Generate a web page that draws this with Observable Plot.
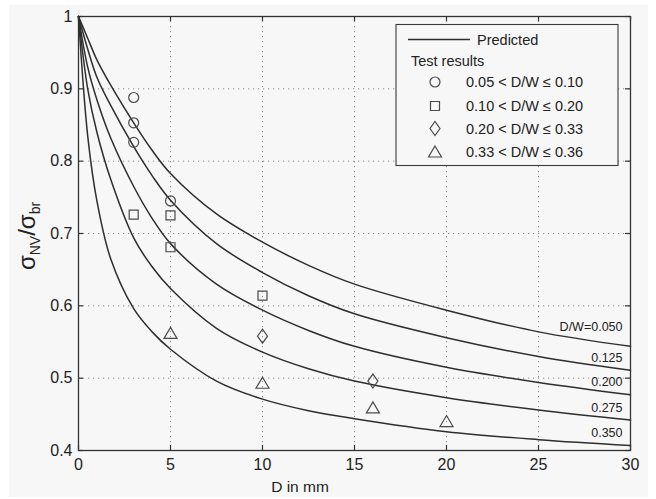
<!DOCTYPE html>
<html>
<head>
<meta charset="utf-8">
<script src="https://cdn.jsdelivr.net/npm/d3@7"></script>
<script src="https://cdn.jsdelivr.net/npm/@observablehq/plot@0.6"></script>
<style>
  html, body { margin: 0; padding: 0; background: #ffffff; }
  #panel { position: absolute; left: 9px; top: 5px; width: 639px; height: 492px; background: #f7f7f7; }
  #chart { position: absolute; left: 0; top: 0; }
</style>
</head>
<body>
<div id="panel"></div>
<div id="chart"></div>
<script>
// ---- Data ----
const D_MM = [0, 0.5, 1, 1.75, 3, 4, 5, 7.5, 10, 12.5, 15, 20, 25, 30];
const PRED_050 = [1, 0.970, 0.940, 0.905, 0.853, 0.815, 0.783, 0.727, 0.688, 0.656, 0.630, 0.594, 0.564, 0.544];
const PRED_125 = [1, 0.955, 0.916, 0.877, 0.820, 0.780, 0.746, 0.686, 0.646, 0.614, 0.589, 0.556, 0.530, 0.511];
const PRED_200 = [1, 0.930, 0.885, 0.832, 0.765, 0.721, 0.686, 0.630, 0.594, 0.566, 0.544, 0.515, 0.494, 0.477];
const PRED_275 = [1, 0.900, 0.840, 0.775, 0.694, 0.654, 0.624, 0.569, 0.536, 0.513, 0.496, 0.473, 0.456, 0.442];
const PRED_350 = [1, 0.835, 0.745, 0.665, 0.596, 0.564, 0.540, 0.496, 0.471, 0.455, 0.444, 0.426, 0.415, 0.407];
const CURVE_LABELS = ["D/W=0.050", "0.125", "0.200", "0.275", "0.350"];

const TEST_CIRCLE_D = [3, 3, 3, 5];
const TEST_CIRCLE_V = [0.888, 0.853, 0.826, 0.745];
const TEST_SQUARE_D = [3, 5, 5, 10];
const TEST_SQUARE_V = [0.726, 0.725, 0.681, 0.614];
const TEST_DIAMOND_D = [10, 16];
const TEST_DIAMOND_V = [0.558, 0.496];
const TEST_TRIANGLE_D = [5, 10, 16, 20];
const TEST_TRIANGLE_V = [0.562, 0.493, 0.459, 0.440];

const LEGEND_LABELS = ["0.05 < D/W \u2264 0.10", "0.10 < D/W \u2264 0.20", "0.20 < D/W \u2264 0.33", "0.33 < D/W \u2264 0.36"];
const X_TICKS = [0, 5, 10, 15, 20, 25, 30];
const Y_TICKS = [0.4, 0.5, 0.6, 0.7, 0.8, 0.9, 1];

// ---- Build tables ----
const series = [PRED_050, PRED_125, PRED_200, PRED_275, PRED_350];
const curveRows = series.flatMap((vals, k) => vals.map((v, i) => ({D: D_MM[i], v, k})));
const labelRows = series.map((vals, k) => ({D: D_MM[D_MM.length - 1], v: vals[vals.length - 1], text: CURVE_LABELS[k], k}));
const pts = (ds, vs) => ds.map((d, i) => ({D: d, v: vs[i]}));

// ---- Marker shapes (MATLAB-like) ----
const symCircle = {draw(c) { c.moveTo(5, 0); c.arc(0, 0, 5, 0, 2 * Math.PI); c.closePath(); }};
const symSquare = {draw(c) { c.moveTo(-4.5, -4.5); c.lineTo(4.5, -4.5); c.lineTo(4.5, 4.5); c.lineTo(-4.5, 4.5); c.closePath(); }};
const symDiamond = {draw(c) { c.moveTo(0, -7); c.lineTo(5, 0); c.lineTo(0, 7); c.lineTo(-5, 0); c.closePath(); }};
const symTriangle = {draw(c) { c.moveTo(0, -6); c.lineTo(6.5, 5); c.lineTo(-6.5, 5); c.closePath(); }};
const SYMS = [symCircle, symSquare, symDiamond, symTriangle];

const W = 656, H = 499;
const mL = 78, mR = 26, mT = 16, mB = 49;
const fw = W - mL - mR, fh = H - mT - mB;
const ink = "#333";
const mk = "#4a4a4a";
const grid = {stroke: "#8a8a8a", strokeOpacity: 1, strokeWidth: 1, strokeDasharray: "1.2,3.8"};

const chart = Plot.plot({
  width: W, height: H,
  marginLeft: mL, marginRight: mR, marginTop: mT, marginBottom: mB,
  style: {background: "transparent", fontFamily: "'Liberation Sans', Arial, sans-serif", fontSize: "14px", color: "#222", overflow: "visible"},
  x: {domain: [0, 30], label: null},
  y: {domain: [0.4, 1], label: null},
  marks: [
    Plot.gridX(X_TICKS.slice(1, -1), grid),
    Plot.gridY(Y_TICKS.slice(1, -1), grid),
    // inward ticks on all four sides
    Plot.tickX(X_TICKS, {x: d => d, stroke: ink, strokeWidth: 1.2, insetTop: fh - 5}),
    Plot.tickX(X_TICKS, {x: d => d, stroke: ink, strokeWidth: 1.2, insetBottom: fh - 5}),
    Plot.tickY(Y_TICKS, {y: d => d, stroke: ink, strokeWidth: 1.2, insetRight: fw - 5}),
    Plot.tickY(Y_TICKS, {y: d => d, stroke: ink, strokeWidth: 1.2, insetLeft: fw - 5}),
    Plot.axisX({ticks: X_TICKS, tickSize: 0, tickPadding: 8, tickFormat: d => String(d), fontSize: 16}),
    Plot.axisY({ticks: Y_TICKS, tickSize: 0, tickPadding: 6, tickFormat: d => String(d), fontSize: 16}),
    Plot.frame({stroke: ink, strokeWidth: 1.3}),
    Plot.line(curveRows, {x: "D", y: "v", z: "k", curve: "catmull-rom", stroke: "#2e2e2e", strokeWidth: 1.5}),
    Plot.dot(pts(TEST_CIRCLE_D, TEST_CIRCLE_V), {x: "D", y: "v", symbol: symCircle, fill: "none", stroke: mk, strokeWidth: 1.2}),
    Plot.dot(pts(TEST_SQUARE_D, TEST_SQUARE_V), {x: "D", y: "v", symbol: symSquare, fill: "none", stroke: mk, strokeWidth: 1.2}),
    Plot.dot(pts(TEST_DIAMOND_D, TEST_DIAMOND_V), {x: "D", y: "v", symbol: symDiamond, fill: "none", stroke: mk, strokeWidth: 1.2}),
    Plot.dot(pts(TEST_TRIANGLE_D, TEST_TRIANGLE_V), {x: "D", y: "v", symbol: symTriangle, fill: "none", stroke: mk, strokeWidth: 1.2}),
    Plot.text(labelRows.slice(0, 1), {x: "D", y: "v", text: "text", textAnchor: "end", dx: -8, dy: -19, fontSize: 12.5, fill: "#222"}),
    Plot.text(labelRows.slice(1), {x: "D", y: "v", text: "text", textAnchor: "end", dx: -8, dy: -12.5, fontSize: 12.5, fill: "#222"})
  ]
});

const svg = d3.select(chart);

// axis titles
svg.append("text")
  .attr("x", 300).attr("y", 492)
  .attr("text-anchor", "middle")
  .attr("font-size", 15.5).attr("fill", "#222")
  .text("D in mm");

const yl = svg.append("text")
  .attr("transform", "translate(35,236) rotate(-90)")
  .attr("text-anchor", "middle")
  .attr("font-size", 24).attr("fill", "#222");
yl.append("tspan").text("\u03C3");
yl.append("tspan").attr("font-size", 14).attr("dy", 5).text("NV");
yl.append("tspan").attr("dy", -5).text("/\u03C3");
yl.append("tspan").attr("font-size", 14).attr("dy", 5).text("br");

// legend
const lg = svg.append("g").attr("font-size", 14.5).attr("fill", "#222").attr("text-anchor", "start");
lg.append("rect").attr("x", 396).attr("y", 24.5).attr("width", 222).attr("height", 141)
  .attr("fill", "#f7f7f7").attr("stroke", "#3a3a3a").attr("stroke-width", 1.1);
lg.append("line").attr("x1", 408).attr("x2", 470).attr("y1", 39.5).attr("y2", 39.5)
  .attr("stroke", "#2e2e2e").attr("stroke-width", 1.4);
lg.append("text").attr("x", 477).attr("y", 45).text("Predicted");
lg.append("text").attr("x", 411).attr("y", 65.5).text("Test results");
const rowY = [82, 106, 128.5, 152];
LEGEND_LABELS.forEach((t, i) => {
  const p = d3.path();
  SYMS[i].draw(p);
  lg.append("path").attr("d", p.toString()).attr("transform", `translate(435,${rowY[i]})`)
    .attr("fill", "none").attr("stroke", mk).attr("stroke-width", 1.2);
  lg.append("text").attr("x", 466).attr("y", rowY[i] + 5).text(t);
});

document.getElementById("chart").appendChild(chart);
</script>
</body>
</html>
